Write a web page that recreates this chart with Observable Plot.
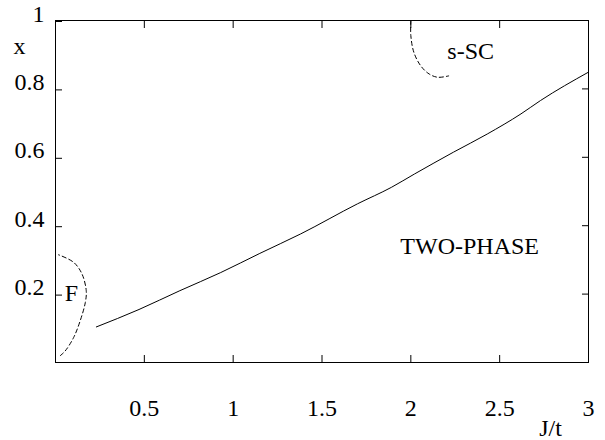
<!DOCTYPE html>
<html><head><meta charset="utf-8">
<script src="https://cdn.jsdelivr.net/npm/d3@7"></script>
<script src="https://cdn.jsdelivr.net/npm/@observablehq/plot@0.6"></script>
<style>
body{margin:0;background:#fff}
svg text{font-family:"Liberation Serif","Nimbus Roman","Times New Roman","DejaVu Serif",serif !important; font-size:24px !important;}
</style>
</head><body><div id="chart"></div>
<script>
// Phase boundary (solid)
const boundaryJ = [0.23, 0.47, 0.70, 0.93, 1.15, 1.38, 1.70, 1.89, 2.02, 2.24, 2.43, 2.62, 2.73, 3.0];
const boundaryX = [0.104, 0.155, 0.210, 0.263, 0.319, 0.376, 0.464, 0.512, 0.551, 0.615, 0.668, 0.727, 0.766, 0.849];
// Ferromagnetic region boundary (dashed)
const ferroJ = [0.027, 0.055, 0.102, 0.139, 0.168, 0.173, 0.149, 0.102, 0.017];
const ferroX = [0.020, 0.034, 0.073, 0.122, 0.176, 0.210, 0.259, 0.293, 0.315];
// s-SC region boundary (dashed)
const sscJ = [2.0, 2.0, 2.017, 2.055, 2.102, 2.151, 2.213];
const sscX = [1.0, 0.956, 0.907, 0.868, 0.844, 0.834, 0.838];
// Region labels
const regionText = ["s-SC", "TWO-PHASE", "F"];
const regionJ = [2.337, 2.331, 0.089];
const regionX = [0.888, 0.318, 0.181];
// Ticks
const xTicks = [0.5, 1, 1.5, 2, 2.5, 3];
const yTicks = [0.2, 0.4, 0.6, 0.8, 1];
const xInner = [0.5, 1, 1.5, 2, 2.5];
const yInner = [0.2, 0.4, 0.6, 0.8];

const boundary = boundaryJ.map((j, i) => ({j, x: boundaryX[i]}));
const ferro = ferroJ.map((j, i) => ({j, x: ferroX[i]}));
const ssc = sscJ.map((j, i) => ({j, x: sscX[i]}));
const regions = regionText.map((t, i) => ({t, j: regionJ[i], x: regionX[i]}));

const serif = "Liberation Serif, Nimbus Roman, Times New Roman, DejaVu Serif, serif";

const chart = Plot.plot({
  width: 605,
  height: 440,
  marginLeft: 55,
  marginTop: 20,
  marginRight: 17,
  marginBottom: 78,
  style: {fontFamily: serif, fontSize: "24px", background: "#fff", color: "black"},
  x: {domain: [0, 3]},
  y: {domain: [0, 1]},
  marks: [
    Plot.frame({stroke: "black", strokeWidth: 1}),
    Plot.axisX({anchor: "bottom", ticks: xTicks, tickSize: -7, tickPadding: 43, tickFormat: d => String(d), label: null, fontFamily: serif, fontSize: 24}),
    Plot.axisX({anchor: "top", ticks: xInner, tickSize: -7, fill: "none", label: null}),
    Plot.axisY({anchor: "left", ticks: yTicks, tickSize: -7, tickPadding: 18, lineAnchor: "bottom", dy: 1, tickFormat: d => String(d), label: null, fontFamily: serif, fontSize: 24}),
    Plot.axisY({anchor: "right", ticks: yInner, tickSize: -7, fill: "none", label: null}),
    Plot.line(boundary, {x: "j", y: "x", stroke: "black", strokeWidth: 1, curve: "monotone-x"}),
    Plot.line(ferro, {x: "j", y: "x", stroke: "black", strokeWidth: 1, strokeDasharray: "4,3", curve: "catmull-rom"}),
    Plot.line(ssc, {x: "j", y: "x", stroke: "black", strokeWidth: 1, strokeDasharray: "4,3", curve: "catmull-rom"}),
    Plot.text(regions, {x: "j", y: "x", text: "t", lineAnchor: "bottom", textAnchor: "middle", fill: "black", fontFamily: serif, fontSize: 24}),
    Plot.text(["x"], {frameAnchor: "top-left", dx: -36, dy: 33, lineAnchor: "bottom", textAnchor: "middle", fill: "black", fontFamily: serif, fontSize: 24}),
    Plot.text(["J/t"], {frameAnchor: "bottom-right", dx: -38, dy: 73, lineAnchor: "bottom", textAnchor: "middle", fill: "black", fontFamily: serif, fontSize: 24})
  ]
});
document.getElementById("chart").appendChild(chart);
</script>
</body></html>
